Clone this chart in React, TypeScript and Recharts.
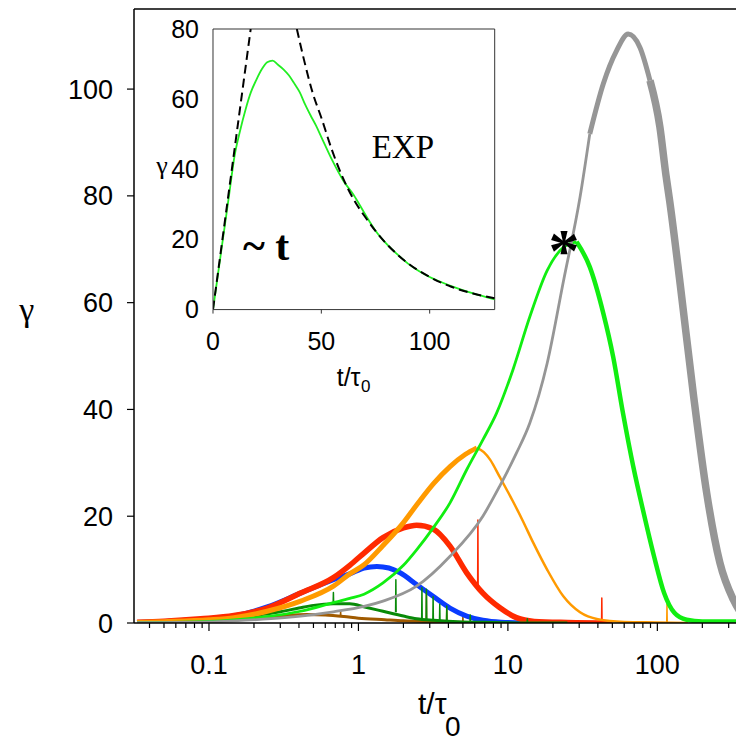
import { LineChart, Line, XAxis, YAxis, ReferenceLine } from 'recharts'

type Pt = [number, number]
type Spike = [number, number, number] // t, base, top

// main panel: gamma vs t/tau0 (log axis)
const brownCurve: Pt[] = [[0.033, 0.05], [0.05, 0.15], [0.1, 0.45], [0.15, 0.7], [0.2, 0.95], [0.3, 1.3], [0.45, 1.6], [0.6, 1.5], [0.8, 1.2], [1, 0.9], [1.5, 0.6], [2, 0.4], [3, 0.25], [5, 0.1], [8, 0.03], [12, 0]]
const brownSpikes: Spike[] = [[0.76, 1.3, 2.2], [2.85, 0.35, 6], [3.9, 0.2, 3.1], [5.0, 0.1, 1.5]]

const darkGreenCurve: Pt[] = [[0.033, 0.1], [0.05, 0.25], [0.1, 0.6], [0.15, 1.0], [0.2, 1.4], [0.3, 2.1], [0.4, 2.8], [0.5, 3.3], [0.68, 3.6], [0.875, 3.6], [1.1, 3.0], [1.46, 2.2], [2, 1.3], [2.45, 0.8], [3.2, 0.5], [5, 0.2], [8, 0.1], [12, 0], [25, 0]]
const darkGreenSpikes: Spike[] = [[0.68, 3.6, 5.7], [1.78, 2.0, 8.1], [2.66, 0.8, 6.6], [2.85, 0.7, 6.3], [3.16, 0.5, 4.9], [3.5, 0.4, 3.5], [3.9, 0.3, 3.2], [5.6, 0.2, 1.5], [13.5, 0, 0.8]]

const blueCurve: Pt[] = [[0.033, 0.1], [0.05, 0.3], [0.1, 0.8], [0.147, 1.3], [0.245, 3.0], [0.41, 5.6], [0.68, 8.1], [0.875, 9.2], [1.09, 10.3], [1.33, 10.6], [1.6, 10.3], [1.9, 9.4], [2.45, 7.2], [3.16, 5.0], [4.1, 2.8], [5.3, 1.3], [6.8, 0.5], [9, 0.15], [13, 0.05], [30, 0]]

const redCurve: Pt[] = [[0.033, 0.15], [0.05, 0.35], [0.088, 0.8], [0.147, 1.4], [0.245, 2.8], [0.41, 5.6], [0.68, 8.5], [0.875, 10.8], [1.09, 13.1], [1.46, 16.0], [2, 17.8], [2.45, 18.3], [3.16, 17.6], [4.1, 14.4], [5.3, 9.4], [6.8, 5.6], [8.8, 2.9], [11.4, 1.0], [15, 0.3], [25, 0.1], [50, 0]]
const redSpikes: Spike[] = [[6.3, 6.8, 19.3], [42.5, 0, 4.7]]

const orangeRise: Pt[] = [[0.033, 0.1], [0.05, 0.25], [0.1, 0.6], [0.147, 1.0], [0.245, 2.2], [0.41, 4.1], [0.68, 6.9], [0.875, 9.2], [1.09, 10.9], [1.46, 14.5], [2, 18.8], [2.45, 22.1], [3.2, 26.2], [4.1, 29.3], [5.2, 31.6], [6.2, 32.8]]
const orangeFall: Pt[] = [[6.2, 32.8], [6.9, 32], [7.6, 30.6], [8.8, 27.4], [10.8, 22.8], [12.5, 19.3], [14.8, 15], [18.3, 10], [23.5, 5], [30.4, 2], [40, 0.7], [60, 0.2], [100, 0.1], [160, 0]]
const orangeSpikes: Spike[] = [[116, 0.1, 3.5]]

const greenRise: Pt[] = [[0.033, 0.05], [0.05, 0.1], [0.1, 0.3], [0.147, 0.6], [0.245, 1.2], [0.41, 2.2], [0.68, 3.8], [0.875, 4.6], [1.09, 5.4], [1.46, 7.5], [2, 10.8], [2.45, 13.7], [3.2, 18], [4.1, 22.5], [5.3, 28.7], [6.8, 34.3], [8.4, 39.3], [10.8, 47.4], [14, 57.3], [18.3, 66], [23.6, 70.4], [28.8, 71.4]]
const greenFall: Pt[] = [[28.8, 71.4], [35.3, 66.7], [43.5, 58], [50.6, 49.9], [58.9, 39.3], [69, 29.3], [81, 20.6], [95, 12.5], [111, 5.6], [130, 1.9], [157, 0.6], [200, 0.3], [380, 0.3]]

const grayRise: Pt[] = [[0.033, 0.05], [0.1, 0.2], [0.147, 0.4], [0.32, 1.0], [0.41, 1.3], [0.68, 2.1], [1.09, 3.1], [1.46, 4.1], [2.45, 6.9], [4.1, 12.5], [6.8, 20], [8.8, 25.6], [11.4, 31.8], [14, 37.4], [18.3, 48.6], [23.6, 64.2], [30.4, 79.8], [35.3, 91.6]]
const grayPeak: Pt[] = [[35.3, 91.6], [43.5, 101], [53.4, 107.2], [63.8, 110.3], [76.5, 107.8], [89.3, 101.6]]
const grayFall: Pt[] = [[89.3, 101.6], [104, 92.9], [114, 84], [121, 79], [142, 63.6], [175, 42.4], [214, 24.3], [262, 11.3], [322, 4.4], [376, 1.3], [400, 0.5]]

const xTicks = [0.04, 0.05, 0.06, 0.07, 0.08, 0.09, 0.1, 0.2, 0.3, 0.4, 0.5, 0.6, 0.7, 0.8, 0.9, 1, 2, 3, 4, 5, 6, 7, 8, 9, 10, 20, 30, 40, 50, 60, 70, 80, 90, 100, 200, 300]
const xMajor = [0.1, 1, 10, 100]
const yTicks = [0, 20, 40, 60, 80, 100]

// inset: linear axes
const insetGreen: Pt[] = [[0, 0], [2.5, 11], [5, 22], [7.5, 33], [10, 44], [12.5, 51], [15, 57], [17.5, 62], [20, 65.5], [22.5, 68.5], [25, 70.5], [27.5, 71], [30, 69.8], [32.5, 68.5], [35, 66.8], [37.5, 64.5], [40, 62], [42.5, 58.5], [45, 55.4], [47.5, 52.5], [50, 49.2], [55, 42.6], [60, 36.9], [65, 32.6], [70, 27.4], [75, 22.5], [80, 18.8], [85, 15.8], [90, 13.1], [95, 11], [100, 9.3], [110, 6.7], [120, 4.6], [130, 2.9]]
const insetLinearFit: Pt[] = [[0, 0], [17.4, 80]]
const insetExpFit: Pt[] = [[38.7, 80], [42, 71.2], [46, 61.8], [50, 54.7], [55, 45.3], [60, 37.5], [65, 31.3], [70, 26.6], [80, 18.8], [90, 13.2], [100, 9.3], [110, 6.5], [120, 4.6], [130, 3.2]]
const insetXTicks = [0, 50, 100]
const insetYTicks = [0, 20, 40, 60, 80]

const rows = (pts: Pt[]) => pts.map(([t, g]) => ({ t, g }))
const spikeRows = (sp: Spike[]) =>
  sp.flatMap(([t, base, top]) => [
    { t: t * 0.996, g: base },
    { t, g: top },
    { t: t * 1.004, g: base },
    { t: t * 1.005, g: null },
  ])

function LogTick({ x, y, payload }: any) {
  const v = payload.value
  const major = xMajor.some((m) => Math.abs(m - v) < 1e-9)
  return (
    <g>
      <line x1={x} x2={x} y1={y} y2={y + (major ? 8 : 5)} stroke="#000" strokeWidth={1.2} />
      {major && (
        <text x={x} y={y + 32} dy="0.71em" textAnchor="middle" fontSize={27} fill="#000">
          {v}
        </text>
      )}
    </g>
  )
}

const line = (data: any[], color: string, width: number, key: string, smooth = true) => (
  <Line
    key={key}
    data={data}
    dataKey="g"
    type={smooth ? 'monotone' : 'linear'}
    stroke={color}
    strokeWidth={width}
    dot={false}
    activeDot={false}
    isAnimationActive={false}
    strokeLinejoin="round"
  />
)

export default function App() {
  const serif = '"Liberation Serif", "Times New Roman", serif'
  return (
    <div style={{ position: 'relative', width: 736, height: 734, fontFamily: '"Liberation Sans", Arial, sans-serif' }}>
      <LineChart width={736} height={720} margin={{ top: 1, right: 0, bottom: 0, left: 0 }}>
        <XAxis
          dataKey="t"
          type="number"
          scale="log"
          domain={[0.0315, 380]}
          allowDataOverflow
          ticks={xTicks}
          interval={0}
          tick={<LogTick />}
          tickLine={false}
          tickSize={0}
          tickMargin={0}
          axisLine={{ stroke: '#000', strokeWidth: 1.5 }}
          height={105}
        />
        <YAxis
          type="number"
          domain={[0, 115]}
          allowDataOverflow
          ticks={yTicks}
          interval={0}
          width={126}
          tickSize={7}
          tickMargin={14}
          tick={{ fill: '#000', fontSize: 27 }}
          tickLine={{ stroke: '#000', strokeWidth: 1.2 }}
          axisLine={{ stroke: '#000', strokeWidth: 1.5 }}
        />
        <ReferenceLine y={115} stroke="#000" strokeWidth={1.5} />
        {line(rows(brownCurve), '#a05a00', 3, 'brown')}
        {line(spikeRows(brownSpikes), '#a05a00', 1.5, 'brownS', false)}
        {line(rows(blueCurve), '#0a3cff', 5, 'blue')}
        {line(rows(redCurve), '#ff2a00', 5.5, 'red')}
        {line(spikeRows(redSpikes), '#ff2a00', 1.5, 'redS', false)}
        {line(rows(darkGreenCurve), '#088a08', 3, 'dgreen')}
        {line(spikeRows(darkGreenSpikes), '#088a08', 1.5, 'dgreenS', false)}
        {line(rows(orangeRise), '#ff9a00', 5, 'orangeR')}
        {line(rows(orangeFall), '#ff9a00', 2.5, 'orangeF')}
        {line(spikeRows(orangeSpikes), '#ff9a00', 1.5, 'orangeS', false)}
        {line(rows(greenRise), '#11ee11', 2.8, 'greenR')}
        {line(rows(greenFall), '#11ee11', 4.5, 'greenF')}
        {line(rows(grayRise), '#969696', 2.8, 'grayR')}
        {line(rows(grayPeak), '#969696', 5, 'grayP')}
        {line(rows(grayFall), '#969696', 7.5, 'grayF')}
      </LineChart>

      <div style={{ position: 'absolute', left: 145.3, top: 0.7 }}>
        <LineChart width={346.7} height={350.6} margin={{ top: 20, right: 5, bottom: 0, left: 0 }}>
          <XAxis
            dataKey="t"
            type="number"
            domain={[0, 130]}
            allowDataOverflow
            ticks={insetXTicks}
            interval={0}
            tickSize={4}
            tickMargin={19}
            tick={{ fill: '#000', fontSize: 25 }}
            tickLine={{ stroke: '#333', strokeWidth: 1 }}
            axisLine={{ stroke: '#333', strokeWidth: 1 }}
            height={50}
          />
          <YAxis
            type="number"
            domain={[0, 80]}
            allowDataOverflow
            ticks={insetYTicks}
            interval={0}
            width={60}
            tickSize={0}
            tickMargin={14}
            tick={{ fill: '#000', fontSize: 25 }}
            tickLine={false}
            axisLine={{ stroke: '#333', strokeWidth: 1 }}
          />
          <ReferenceLine y={80} stroke="#333" strokeWidth={1} />
          <ReferenceLine x={130} stroke="#333" strokeWidth={1} />
          {line(rows(insetGreen), '#22ee22', 1.8, 'ig')}
          <Line data={rows(insetLinearFit)} dataKey="g" stroke="#000" strokeWidth={2} strokeDasharray="9 5" dot={false} activeDot={false} isAnimationActive={false} />
          <Line data={rows(insetExpFit)} dataKey="g" type="monotone" stroke="#000" strokeWidth={2} strokeDasharray="9 5" dot={false} activeDot={false} isAnimationActive={false} />
        </LineChart>
      </div>

      <svg width={736} height={734} style={{ position: 'absolute', left: 0, top: 0, pointerEvents: 'none' }}>
        <text x={18.7} y={312.6} textAnchor="middle" fontSize={34} fontFamily={serif} fill="#000">γ</text>
        <text x={410} y={706} fontSize={30} fill="#000">
          t/τ<tspan x={437} y={728} fontSize={28}>0</tspan>
        </text>
        <text x={154} y={165.5} textAnchor="middle" fontSize={26} fontFamily={serif} fill="#000">γ</text>
        <text x={328.7} y={378} fontSize={25} fill="#000">
          t/τ<tspan x={353} y={383.7} fontSize={17}>0</tspan>
        </text>
        <text x={363.7} y={150.3} fontSize={33} fontFamily={serif} fill="#000">EXP</text>
        <text x={235} y={252} fontSize={42} fontWeight="bold" fontFamily={serif} fill="#000">~ t</text>
        <text x={556} y={262.7} textAnchor="middle" fontSize={62} fontWeight="bold" fontFamily={serif} fill="#000">*</text>
      </svg>
    </div>
  )
}
